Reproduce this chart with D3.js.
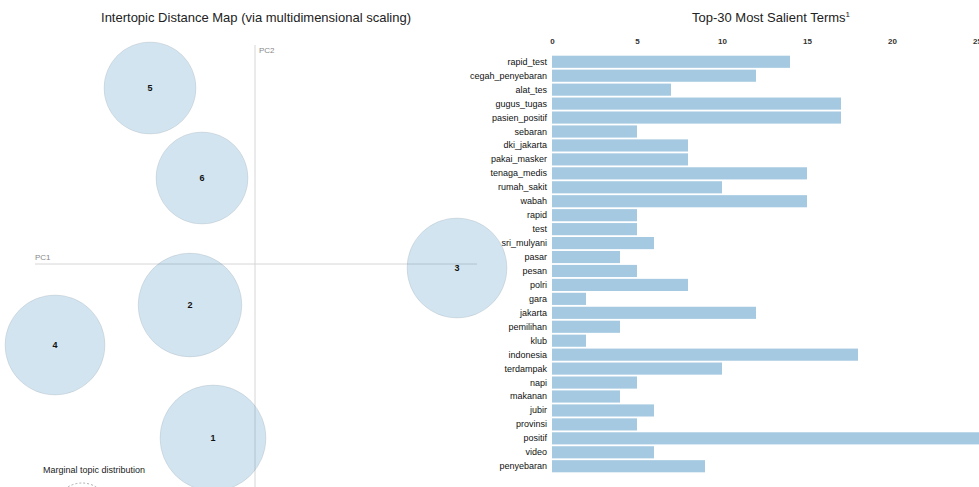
<!DOCTYPE html>
<html><head><meta charset="utf-8">
<script src="https://cdn.jsdelivr.net/npm/d3@7"></script>
<style>
html,body{margin:0;padding:0;background:#fff;}
svg{display:block;font-family:"Liberation Sans",Arial,sans-serif;}
</style></head>
<body><svg id="chart" width="979" height="487"></svg>
<script>
// ---- Data ----
const topicIds   = [1, 2, 3, 4, 5, 6];
const topicPC1   = [-0.042, -0.065, 0.202, -0.200, -0.105, -0.053];
const topicPC2   = [-0.174, -0.041, -0.004, -0.081, 0.176, 0.086];
const topicShare = [19.1, 18.3, 17.0, 17.0, 14.4, 14.4]; // marginal topic %

const terms = ["rapid_test","cegah_penyebaran","alat_tes","gugus_tugas","pasien_positif","sebaran",
  "dki_jakarta","pakai_masker","tenaga_medis","rumah_sakit","wabah","rapid","test","sri_mulyani",
  "pasar","pesan","polri","gara","jakarta","pemilihan","klub","indonesia","terdampak","napi",
  "makanan","jubir","provinsi","positif","video","penyebaran"];
const termFreq = [14,12,7,17,17,5,8,8,15,10,15,5,5,6,4,5,8,2,12,4,2,18,10,5,4,6,5,26,6,9];
const xTicks = [0,5,10,15,20,25];

// ---- Drawing ----
const svg = d3.select("#chart");
const blue = "#1f77b4";

// Left panel: intertopic distance map
const x = d3.scaleLinear().domain([-0.25, 0.25]).range([5, 505]);
const y = d3.scaleLinear().domain([-0.25, 0.25]).range([514, 14]);
const r = d3.scaleSqrt().domain([0, 19.1]).range([0, 53]);

svg.append("text").attr("x", 256).attr("y", 22).attr("text-anchor", "middle")
  .attr("font-size", 13).attr("fill", "#222")
  .text("Intertopic Distance Map (via multidimensional scaling)");

const left = svg.append("g");
left.append("line").attr("x1", x(0)).attr("x2", x(0)).attr("y1", 45).attr("y2", 487)
  .attr("stroke", "#d6d6d6").attr("stroke-width", 1);
left.append("line").attr("x1", 35).attr("x2", 477).attr("y1", y(0)).attr("y2", y(0))
  .attr("stroke", "#d6d6d6").attr("stroke-width", 1);
left.append("text").attr("x", x(0) + 4).attr("y", 53).attr("font-size", 8).attr("fill", "#888").text("PC2");
left.append("text").attr("x", 35).attr("y", 260).attr("font-size", 8).attr("fill", "#888").text("PC1");

const topics = topicIds.map((id, i) => ({id, px: topicPC1[i], py: topicPC2[i], s: topicShare[i]}));
const tg = left.selectAll("g.topic").data(topics).join("g").attr("class", "topic");
tg.append("circle").attr("cx", d => x(d.px)).attr("cy", d => y(d.py)).attr("r", d => r(d.s))
  .attr("fill", blue).attr("fill-opacity", 0.2).attr("stroke", "#000").attr("stroke-opacity", 0.08);
tg.append("text").attr("x", d => x(d.px)).attr("y", d => y(d.py) + 3).attr("text-anchor", "middle")
  .attr("font-size", 9).attr("font-weight", "bold").attr("fill", "#111").text(d => d.id);

// marginal topic distribution legend
left.append("text").attr("x", 43).attr("y", 473).attr("font-size", 9).attr("fill", "#222")
  .text("Marginal topic distribution");
left.append("circle").attr("cx", 82).attr("cy", 510).attr("r", 27).attr("fill", "none")
  .attr("stroke", "#999").attr("stroke-dasharray", "2,2").attr("stroke-width", 0.8);

// Right panel: bar chart
const xb = d3.scaleLinear().domain([0, 25]).range([552, 977]);
const yb = d3.scaleBand().domain(terms).range([55, 473]).paddingInner(0.13).paddingOuter(0.05);

const title = svg.append("text").attr("x", 771).attr("y", 22).attr("text-anchor", "middle")
  .attr("font-size", 13).attr("fill", "#222");
title.append("tspan").text("Top-30 Most Salient Terms");
title.append("tspan").attr("font-size", 8).attr("dy", -5).text("1");

const axis = d3.axisTop(xb).tickValues(xTicks).tickSize(0).tickPadding(0);
const ag = svg.append("g").attr("transform", "translate(0,44)").call(axis);
ag.select(".domain").remove();
ag.selectAll("text").attr("font-size", 8).attr("font-weight", "bold").attr("fill", "#333")
  .attr("font-family", "Liberation Sans, Arial, sans-serif");

const bars = svg.append("g");
bars.selectAll("rect").data(terms).join("rect")
  .attr("x", xb(0)).attr("y", d => yb(d))
  .attr("width", (d, i) => xb(termFreq[i]) - xb(0)).attr("height", yb.bandwidth())
  .attr("fill", blue).attr("fill-opacity", 0.4);
bars.selectAll("text").data(terms).join("text")
  .attr("x", xb(0) - 5).attr("y", d => yb(d) + yb.bandwidth() / 2 + 3)
  .attr("text-anchor", "end").attr("font-size", 9).attr("fill", "#111").text(d => d);
</script>
</body></html>
